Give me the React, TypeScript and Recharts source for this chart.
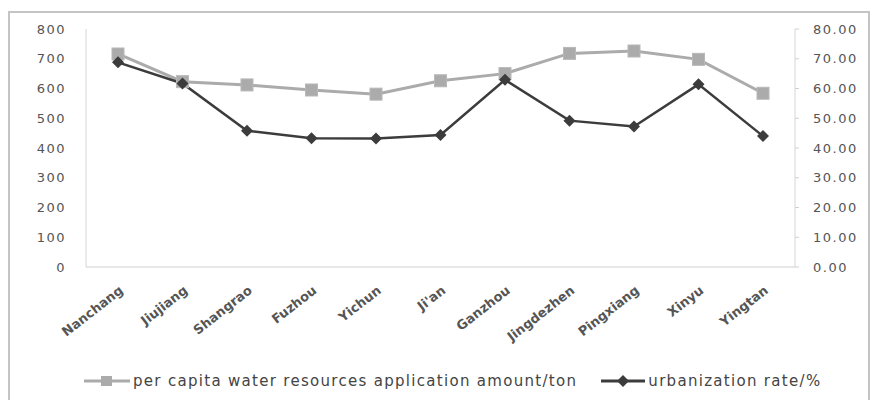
import React from 'react';
import { ComposedChart, Line, XAxis, YAxis, Legend } from 'recharts';

const cities = ['Nanchang', 'Jiujiang', 'Shangrao', 'Fuzhou', 'Yichun', "Ji'an", 'Ganzhou', 'Jingdezhen', 'Pingxiang', 'Xinyu', 'Yingtan'];
const waterPerCapita = [716, 623, 612, 595, 581, 626, 650, 718, 726, 698, 584];
const urbanizationRate = [68.8, 61.7, 45.8, 43.3, 43.2, 44.4, 62.9, 49.2, 47.2, 61.4, 44.0];
const leftTicks = [0, 100, 200, 300, 400, 500, 600, 700, 800];
const rightTicks = [0, 10, 20, 30, 40, 50, 60, 70, 80];

const data = cities.map((c, i) => ({ city: c, water: waterPerCapita[i], urban: urbanizationRate[i] }));

const FONT = '"DejaVu Sans", sans-serif';
const GRAY = '#ababab';
const DARK = '#3c3c3c';

const SquareDot = (props: any) => {
  const { cx, cy } = props;
  if (cx == null || cy == null) return null;
  return <rect x={cx - 6} y={cy - 6} width={12} height={12} fill={GRAY} stroke="#b8b8b8" strokeWidth={1} />;
};

const DiamondDot = (props: any) => {
  const { cx, cy } = props;
  if (cx == null || cy == null) return null;
  return <polygon points={`${cx},${cy - 6} ${cx + 6},${cy} ${cx},${cy + 6} ${cx - 6},${cy}`} fill={DARK} />;
};

const XTick = (props: any) => {
  const { x, y, payload } = props;
  return (
    <g transform={`translate(${x + 6},${y + 17})`}>
      <text transform="rotate(-38)" textAnchor="end" fontFamily={FONT} fontSize={13} fontWeight="bold" fill="#555">
        {payload.value}
      </text>
    </g>
  );
};

const LegendContent = () => (
  <div style={{ height: 38, display: 'flex', alignItems: 'center', fontFamily: FONT, fontSize: 15, letterSpacing: 1.3, color: '#444', paddingLeft: 84, whiteSpace: 'nowrap' }}>
    <svg width={46} height={14} style={{ marginRight: 3 }}>
      <line x1={0} y1={7} x2={46} y2={7} stroke={GRAY} strokeWidth={3} />
      <rect x={17} y={2} width={11} height={10} fill={GRAY} />
    </svg>
    <span style={{ marginRight: 24 }}>per capita water resources application amount/ton</span>
    <svg width={44} height={14} style={{ marginRight: 3 }}>
      <line x1={0} y1={7} x2={44} y2={7} stroke={DARK} strokeWidth={3} />
      <polygon points="22,1 28,7 22,13 16,7" fill={DARK} />
    </svg>
    <span>urbanization rate/%</span>
  </div>
);

export default function App() {
  return (
    <div style={{ position: 'absolute', left: 0, top: 0, width: 878, height: 400, background: '#fff' }}>
      <div style={{ position: 'absolute', left: 8, top: 11, width: 862, height: 392, border: '2px solid #c4c4c4', boxSizing: 'border-box' }} />
      <ComposedChart width={878} height={400} data={data} margin={{ top: 29, right: 0, bottom: 0, left: 0 }}>
        <XAxis dataKey="city" interval={0} height={95} padding={{ left: 32, right: 32 }} tick={<XTick />} tickLine={false} axisLine={{ stroke: '#cfcfcf' }} />
        <YAxis
          yAxisId="left"
          orientation="left"
          width={86}
          domain={[0, 800]}
          ticks={leftTicks}
          tickLine={false}
          tickSize={8}
          tickMargin={12}
          axisLine={{ stroke: '#d6d6d6' }}
          tick={{ fontFamily: FONT, fontSize: 13, fill: '#555', letterSpacing: 1.5 }}
        />
        <YAxis
          yAxisId="right"
          orientation="right"
          width={83}
          domain={[0, 80]}
          ticks={rightTicks}
          tickFormatter={(v: number) => v.toFixed(2)}
          tickLine={{ stroke: '#d0d0d0' }}
          tickSize={4}
          tickMargin={14}
          axisLine={{ stroke: '#d6d6d6' }}
          tick={{ fontFamily: FONT, fontSize: 13, fill: '#555', letterSpacing: 1.5 }}
        />
        <Legend verticalAlign="bottom" height={38} content={<LegendContent />} />
        <Line yAxisId="left" type="linear" dataKey="water" stroke={GRAY} strokeWidth={3} dot={<SquareDot />} isAnimationActive={false} />
        <Line yAxisId="right" type="linear" dataKey="urban" stroke={DARK} strokeWidth={2.5} dot={<DiamondDot />} isAnimationActive={false} />
      </ComposedChart>
    </div>
  );
}
